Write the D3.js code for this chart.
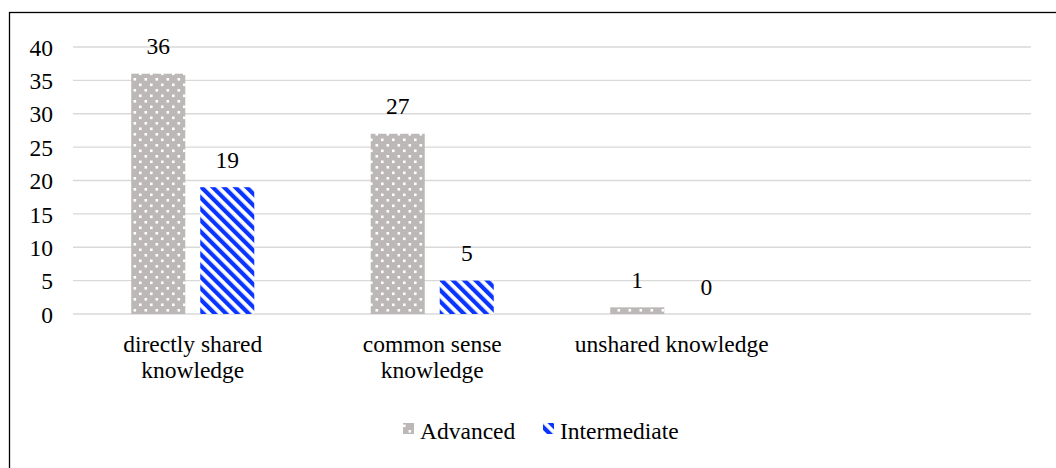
<!DOCTYPE html>
<html>
<head>
<meta charset="utf-8">
<script src="https://cdn.jsdelivr.net/npm/d3@7"></script>
<style>
  body { margin: 0; background: #fff; }
  text { font-family: "Liberation Serif", "Times New Roman", serif; fill: #000; }
</style>
</head>
<body>
<svg id="chart" width="1056" height="468"></svg>
<script>
// chart data
const categories = [["directly shared", "knowledge"], ["common sense", "knowledge"], ["unshared knowledge"], []];
const seriesNames = ["Advanced", "Intermediate"];
const advanced = [36, 27, 1, null];
const intermediate = [19, 5, 0, null];
const yTicks = [0, 5, 10, 15, 20, 25, 30, 35, 40];

const svg = d3.select("#chart");
const W = 1056, H = 468;
const margin = {left: 73, right: 25, top: 47, bottom: 154};
const FS = "23.5px";

// frame
svg.append("rect")
  .attr("x", 9.5).attr("y", 12.5)
  .attr("width", 1060).attr("height", 470)
  .attr("fill", "none").attr("stroke", "#000").attr("stroke-width", 1.3);

// patterns
let defs = svg.append("defs");
let dots = defs.append("pattern")
  .attr("id", "dots").attr("patternUnits", "userSpaceOnUse")
  .attr("width", 11).attr("height", 11);
dots.append("rect").attr("width", 11).attr("height", 11).attr("fill", "#bcb8b8");
dots.append("rect").attr("x", 1.5).attr("y", 1).attr("width", 2.6).attr("height", 2.6).attr("fill", "#fff");
dots.append("rect").attr("x", 7).attr("y", 6.5).attr("width", 2.6).attr("height", 2.6).attr("fill", "#fff");

let stripes = defs.append("pattern")
  .attr("id", "stripes").attr("patternUnits", "userSpaceOnUse")
  .attr("width", 8).attr("height", 8)
  .attr("patternTransform", "rotate(-45)");
stripes.append("rect").attr("width", 8).attr("height", 8).attr("fill", "#fff");
stripes.append("rect").attr("width", 4.2).attr("height", 8).attr("fill", "#0a35ff");

const fills = ["url(#dots)", "url(#stripes)"];

let x = d3.scaleBand()
  .domain(d3.range(categories.length))
  .range([margin.left, W - margin.right]);

let y = d3.scaleLinear()
  .domain([0, 40])
  .range([H - margin.bottom, margin.top]);

// gridlines
svg.append("g").selectAll("line")
  .data(yTicks)
  .enter().append("line")
  .attr("x1", margin.left).attr("x2", W - margin.right)
  .attr("y1", d => y(d)).attr("y2", d => y(d))
  .attr("stroke", "#d9d9d9").attr("stroke-width", 1.3);

// y axis labels
let yAxis = svg.append("g")
  .attr("transform", "translate(" + (margin.left - 20) + ",0)")
  .call(d3.axisLeft(y).tickValues(yTicks).tickSize(0).tickPadding(0));
yAxis.select(".domain").remove();
yAxis.selectAll("text")
  .style("font-family", "Liberation Serif").style("font-size", FS)
  .attr("fill", "#000").attr("dy", "0.35em");

let x1 = d3.scaleBand()
  .domain(seriesNames)
  .range([0, x.bandwidth()])
  .paddingInner(0.217)
  .paddingOuter(0.844);

const series = [advanced, intermediate];
series.forEach(function(vals, s) {
  let g = svg.append("g");
  let data = vals.map((v, i) => ({i: i, v: v})).filter(d => d.v !== null);
  g.selectAll("rect")
    .data(data)
    .enter().append("rect")
    .attr("x", d => x(d.i) + x1(seriesNames[s]))
    .attr("y", d => y(d.v))
    .attr("width", x1.bandwidth())
    .attr("height", d => y(0) - y(d.v))
    .attr("fill", fills[s]);
  g.selectAll("text")
    .data(data)
    .enter().append("text")
    .attr("x", d => x(d.i) + x1(seriesNames[s]) + x1.bandwidth() / 2)
    .attr("y", d => y(d.v) - 19.5)
    .attr("text-anchor", "middle")
    .style("font-size", FS)
    .text(d => d.v);
});

// category labels
categories.forEach(function(lines, i) {
  let t = svg.append("text")
    .attr("x", x(i) + x.bandwidth() / 2)
    .attr("y", 352)
    .attr("text-anchor", "middle")
    .style("font-size", FS);
  lines.forEach(function(line, k) {
    t.append("tspan")
      .attr("x", x(i) + x.bandwidth() / 2)
      .attr("dy", k === 0 ? 0 : 26)
      .text(line);
  });
});

// legend
const legendX = [403, 543];
seriesNames.forEach(function(name, s) {
  svg.append("rect")
    .attr("x", legendX[s]).attr("y", 423)
    .attr("width", 11).attr("height", 11)
    .attr("fill", fills[s]);
  svg.append("text")
    .attr("x", legendX[s] + 17).attr("y", 438.5)
    .style("font-size", FS)
    .text(name);
});
</script>
</body>
</html>
